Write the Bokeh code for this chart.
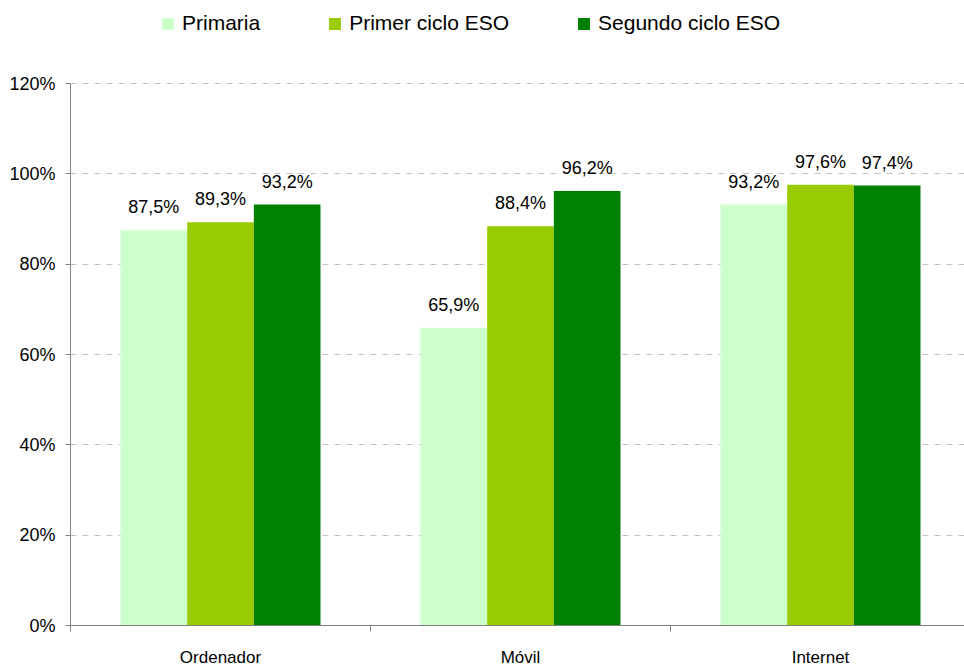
from bokeh.plotting import figure
from bokeh.models import (ColumnDataSource, Range1d, FixedTicker, PrintfTickFormatter,
                          Legend, LegendItem, LabelSet)
from bokeh.core.properties import value
from bokeh.embed import file_html
from bokeh.resources import INLINE

categories = ["Ordenador", "Móvil", "Internet"]
series_names = ["Primaria", "Primer ciclo ESO", "Segundo ciclo ESO"]
primaria = [87.5, 65.9, 93.2]
primer_ciclo = [89.3, 88.4, 97.6]
segundo_ciclo = [93.2, 96.2, 97.4]
colors = ["#CCFFCC", "#99CC00", "#008000"]
y_ticks = [0, 20, 40, 60, 80, 100, 120]

FONT = "Liberation Sans"

# plot area extends above 120% to leave room for the legend; the axis is bounded to 0-120%
PLOT_H = 542          # pixels spanned by 0..120%
TOP_SPACE = 83        # pixels above the 120% line
y_max = 120 * (PLOT_H + TOP_SPACE) / PLOT_H

p = figure(frame_width=894, frame_height=PLOT_H + TOP_SPACE, output_backend="svg",
           toolbar_location=None,
           x_range=Range1d(0, 2.98), y_range=Range1d(0, y_max),
           min_border_left=70, min_border_right=0, min_border_top=0, min_border_bottom=35)
p.outline_line_color = None
p.background_fill_color = "white"

bar_w = 2 / 9
offsets = [-bar_w, 0, bar_w]
renderers = []
for vals, off, col, name in zip([primaria, primer_ciclo, segundo_ciclo], offsets, colors, series_names):
    xs = [i + 0.5 + off for i in range(len(categories))]
    src = ColumnDataSource(dict(x=xs, top=vals,
                                label=[f"{v:.1f}%".replace(".", ",") for v in vals]))
    r = p.vbar(x="x", top="top", width=bar_w, bottom=0, source=src,
               fill_color=col, line_color=None)
    renderers.append(r)
    labels = LabelSet(x="x", y="top", text="label", source=src, text_align="center",
                      text_baseline="bottom", y_offset=13,
                      text_font=value(FONT), text_font_size="18px", text_color="#000000")
    p.add_layout(labels)

# Y axis
p.yaxis.ticker = FixedTicker(ticks=y_ticks, minor_ticks=[])
p.yaxis.bounds = (0, 120)
p.yaxis.formatter = PrintfTickFormatter(format="%d%%")
p.yaxis.axis_line_color = "#808080"
p.yaxis.major_tick_line_color = "#808080"
p.yaxis.major_tick_out = 5
p.yaxis.major_tick_in = 0
p.yaxis.minor_tick_line_color = None
p.yaxis.major_label_standoff = 10
p.yaxis.major_label_text_font = FONT
p.yaxis.major_label_text_font_size = "18px"
p.yaxis.major_label_text_color = "#000000"

# X axis: labels at category centres, ticks at category boundaries
centers = [i + 0.5 for i in range(len(categories))]
bounds = [i for i in range(len(categories) + 1)]
p.xaxis.ticker = FixedTicker(ticks=centers, minor_ticks=bounds)
p.xaxis.major_label_overrides = {c: name for c, name in zip(centers, categories)}
p.xaxis.axis_line_color = "#808080"
p.xaxis.major_tick_line_color = None
p.xaxis.major_tick_out = 0
p.xaxis.major_tick_in = 0
p.xaxis.minor_tick_line_color = "#808080"
p.xaxis.minor_tick_out = 6
p.xaxis.minor_tick_in = 0
p.xaxis.major_label_standoff = 16
p.xaxis.major_label_text_font = FONT
p.xaxis.major_label_text_font_size = "17px"
p.xaxis.major_label_text_color = "#000000"

p.xgrid.grid_line_color = None
p.ygrid.ticker = FixedTicker(ticks=y_ticks[1:])
p.ygrid.grid_line_color = "#C0C0C0"
p.ygrid.grid_line_dash = "6 6"

legend = Legend(items=[LegendItem(label=n, renderers=[r]) for n, r in zip(series_names, renderers)],
                orientation="horizontal", location=(90, PLOT_H + TOP_SPACE - 35),
                glyph_width=15, glyph_height=15, label_standoff=7, spacing=67,
                padding=0, margin=0, border_line_color=None, background_fill_alpha=0,
                label_text_font=FONT, label_text_font_size="21px", label_text_color="#000000",
                label_height=15)
p.add_layout(legend, "center")

open("out.html", "w").write(file_html(p, INLINE))
